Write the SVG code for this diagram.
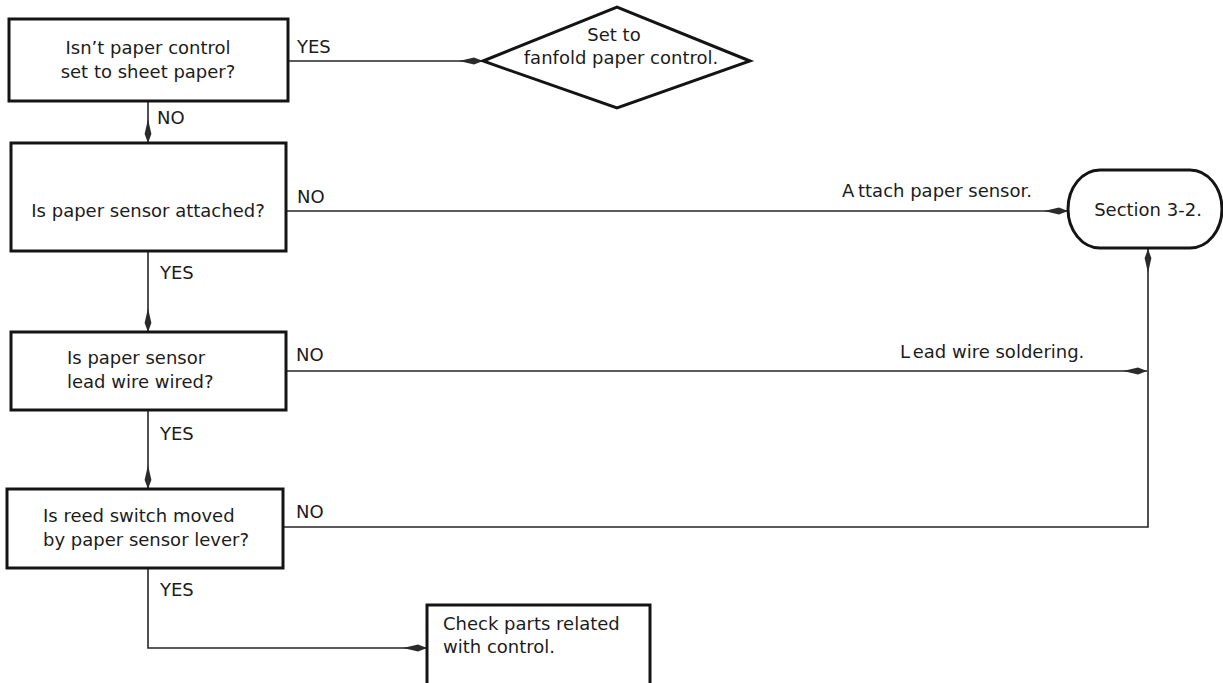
<svg xmlns="http://www.w3.org/2000/svg" width="1223" height="683" viewBox="0 0 1223 683">
  <defs>
    <!-- slim arrowhead, widest near the tip, tapering back into the line -->
    <marker id="arrow" markerWidth="26" markerHeight="10" refX="24" refY="5" orient="auto" markerUnits="userSpaceOnUse">
      <path d="M0,5 L15,1.6 L24,5 L15,8.4 Z" fill="#2b2b2b"/>
    </marker>
    <style>
      .box { fill: #ffffff; stroke: #141414; stroke-width: 3; }
      .wire { fill: none; stroke: #262626; stroke-width: 1.6; }
      text { font-family: "DejaVu Sans", "Liberation Sans", sans-serif; font-size: 18px; fill: #1c1c1c; }
      .mid { text-anchor: middle; }
    </style>
  </defs>
  <rect width="1223" height="683" fill="#ffffff"/>

  <!-- flow lines and their labels -->
  <g id="connectors">
    <line class="wire" x1="288" y1="61" x2="483" y2="61" marker-end="url(#arrow)"/>
    <line class="wire" x1="148" y1="101" x2="148" y2="143" marker-end="url(#arrow)"/>
    <line class="wire" x1="286" y1="211" x2="1068" y2="211" marker-end="url(#arrow)"/>
    <line class="wire" x1="148" y1="251" x2="148" y2="332" marker-end="url(#arrow)"/>
    <line class="wire" x1="286" y1="371" x2="1147" y2="371" marker-end="url(#arrow)"/>
    <line class="wire" x1="148" y1="410" x2="148" y2="489" marker-end="url(#arrow)"/>
    <polyline class="wire" points="283,527 1148,527 1148,249" marker-end="url(#arrow)"/>
    <polyline class="wire" points="148,568 148,648 427,648" marker-end="url(#arrow)"/>

    <text x="297" y="53">YES</text>
    <text x="157" y="124">NO</text>
    <text x="297" y="203">NO</text>
    <text x="842" y="197">A<tspan dx="4">ttach paper sensor.</tspan></text>
    <text x="160" y="279">YES</text>
    <text x="296" y="361">NO</text>
    <text x="900" y="358">L<tspan dx="3">ead wire soldering.</tspan></text>
    <text x="160" y="440">YES</text>
    <text x="296" y="518">NO</text>
    <text x="160" y="596">YES</text>
  </g>

  <g id="q-sheet-paper">
    <rect class="box" x="9" y="19" width="279" height="82"/>
    <text class="mid" x="148" y="54">Isn’t paper control</text>
    <text class="mid" x="148" y="78">set to sheet paper?</text>
  </g>

  <g id="set-fanfold">
    <polygon class="box" points="483,61 617,7 750,61 617,108"/>
    <text class="mid" x="614" y="41">Set to</text>
    <text class="mid" x="621" y="64">fanfold paper control.</text>
  </g>

  <g id="q-sensor-attached">
    <rect class="box" x="11" y="143" width="275" height="108"/>
    <text class="mid" x="148" y="217">Is paper sensor attached?</text>
  </g>

  <g id="section-3-2">
    <rect class="box" x="1068" y="170" width="154" height="78" rx="32" ry="39"/>
    <text class="mid" x="1148" y="216">Section 3-2.</text>
  </g>

  <g id="q-lead-wire">
    <rect class="box" x="11" y="332" width="275" height="78"/>
    <text x="67" y="364">Is paper sensor</text>
    <text x="67" y="388">lead wire wired?</text>
  </g>

  <g id="q-reed-switch">
    <rect class="box" x="7" y="489" width="276" height="79"/>
    <text x="43" y="522">Is reed switch moved</text>
    <text x="43" y="546">by paper sensor lever?</text>
  </g>

  <g id="check-parts">
    <rect class="box" x="427" y="605" width="223" height="90"/>
    <text x="443" y="630">Check parts related</text>
    <text x="443" y="653">with control.</text>
  </g>
</svg>
